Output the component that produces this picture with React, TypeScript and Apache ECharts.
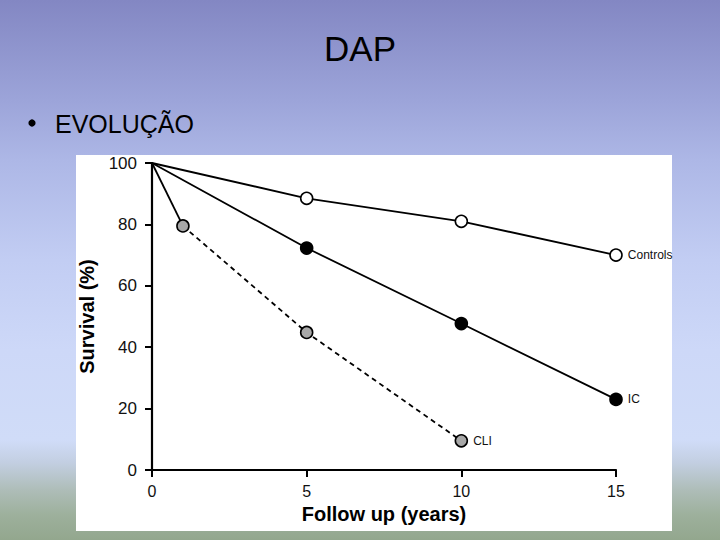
import React, { useEffect, useRef } from "react";
import * as echarts from "echarts";

const controlsX = [0, 5, 10, 15];
const controlsY = [100, 88.5, 81, 70];
const icX = [0, 5, 10, 15];
const icY = [100, 72.3, 47.7, 23];
const cliX = [0, 1, 5, 10];
const cliY = [100, 79.5, 44.8, 9.5];
const seriesNames = ["Controls", "IC", "CLI"];

const FONT = "'Liberation Sans', Arial, sans-serif";

function buildData(xs: number[], ys: number[], label: string | null, hideFirst: boolean) {
  return xs.map((x, i) => {
    const item: any = { value: [x, ys[i]] };
    if (i === 0 && hideFirst) item.symbol = "none";
    if (label && i === xs.length - 1) {
      item.label = {
        show: true,
        position: "right",
        distance: 5,
        formatter: label,
        fontFamily: FONT,
        fontSize: 12,
        color: "#111",
      };
    }
    return item;
  });
}

export default function App() {
  const ref = useRef<HTMLDivElement>(null);

  useEffect(() => {
    if (!ref.current) return;
    const chart = echarts.init(ref.current, undefined, { renderer: "svg" });
    const lineBase = { width: 1.8, color: "#000" };
    chart.setOption({
      animation: false,
      backgroundColor: "transparent",
      graphic: [
        {
          type: "rect",
          z: -10,
          shape: { x: 76, y: 155, width: 596, height: 376 },
          style: { fill: "#ffffff" },
        },
        {
          type: "text",
          x: 360,
          y: 48,
          style: {
            text: "DAP",
            fontFamily: FONT,
            fontSize: 35,
            fill: "#000",
            align: "center",
            verticalAlign: "middle",
          },
        },
        {
          type: "circle",
          shape: { cx: 32, cy: 123, r: 3.6 },
          style: { fill: "#000" },
        },
        {
          type: "text",
          x: 55,
          y: 124,
          style: {
            text: "EVOLUÇÃO",
            fontFamily: FONT,
            fontSize: 25,
            fill: "#000",
            align: "left",
            verticalAlign: "middle",
          },
        },
      ],
      grid: { left: 152, right: 104, top: 163, bottom: 70, containLabel: false },
      xAxis: {
        type: "value",
        min: 0,
        max: 15,
        interval: 5,
        name: "Follow up (years)",
        nameLocation: "middle",
        nameGap: 31,
        nameTextStyle: { fontFamily: FONT, fontSize: 20, fontWeight: "bold", color: "#000" },
        axisLine: { lineStyle: { color: "#000", width: 2.2 } },
        axisTick: { show: true, length: 7, lineStyle: { color: "#000", width: 2 } },
        axisLabel: { fontFamily: FONT, fontSize: 16, color: "#111", margin: 13 },
        splitLine: { show: false },
      },
      yAxis: {
        type: "value",
        min: 0,
        max: 100,
        interval: 20,
        name: "Survival (%)",
        nameLocation: "middle",
        nameGap: 55,
        nameRotate: 90,
        nameTextStyle: { fontFamily: FONT, fontSize: 20, fontWeight: "bold", color: "#000" },
        axisLine: { show: true, lineStyle: { color: "#000", width: 2.2 } },
        axisTick: { show: true, length: 7, lineStyle: { color: "#000", width: 2 } },
        axisLabel: { fontFamily: FONT, fontSize: 17, color: "#111", margin: 15 },
        splitLine: { show: false },
      },
      series: [
        {
          name: seriesNames[0],
          type: "line",
          data: buildData(controlsX, controlsY, seriesNames[0], true),
          symbol: "circle",
          symbolSize: 12,
          lineStyle: lineBase,
          itemStyle: { color: "#ffffff", borderColor: "#000", borderWidth: 1.6 },
          z: 3,
        },
        {
          name: seriesNames[1],
          type: "line",
          data: buildData(icX, icY, seriesNames[1], true),
          symbol: "circle",
          symbolSize: 12,
          lineStyle: lineBase,
          itemStyle: { color: "#000", borderColor: "#000", borderWidth: 1.6 },
          z: 3,
        },
        {
          name: seriesNames[2] + " solid",
          type: "line",
          data: buildData(cliX.slice(0, 2), cliY.slice(0, 2), null, false),
          symbol: "none",
          lineStyle: lineBase,
          z: 2,
        },
        {
          name: seriesNames[2],
          type: "line",
          data: buildData(cliX.slice(1), cliY.slice(1), seriesNames[2], false),
          symbol: "circle",
          symbolSize: 12,
          lineStyle: { ...lineBase, type: [5, 4] },
          itemStyle: { color: "#a8a8a8", borderColor: "#000", borderWidth: 1.6 },
          z: 3,
        },
      ],
    });
    return () => chart.dispose();
  }, []);

  return (
    <div
      style={{
        position: "fixed",
        left: 0,
        top: 0,
        width: 720,
        height: 540,
        background:
          "linear-gradient(to bottom, #8387c3 0px, #9ca4d9 100px, #adb7e6 160px, #c2cdf3 260px, #cdd8f8 350px, #d0dcf8 440px, #c3cfe2 462px, #aebdb8 490px, #9db09c 515px, #93a78e 540px)",
      }}
    >
      <div ref={ref} style={{ width: 720, height: 540 }} />
    </div>
  );
}
